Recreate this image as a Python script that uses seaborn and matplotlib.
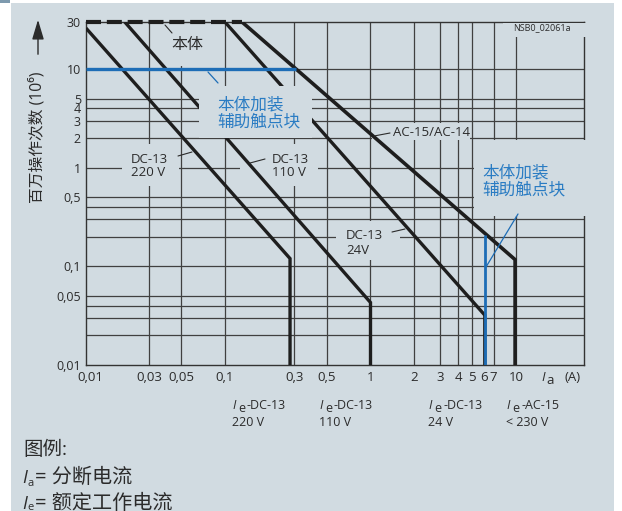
import numpy as np
import pandas as pd
import matplotlib
matplotlib.use("Agg")
import matplotlib.pyplot as plt
import matplotlib.transforms as mtransforms
from matplotlib.patches import Rectangle
from matplotlib.lines import Line2D
from matplotlib.ticker import NullLocator
import seaborn as sns

# ---------------- data ----------------
dc13_220v_x = [0.0111, 0.28, 0.28]
dc13_220v_y = [26.0, 0.12, 0.01]
dc13_110v_x = [0.0205, 1.0, 1.0]
dc13_110v_y = [30.0, 0.043, 0.01]
dc13_24v_x = [0.1, 6.1, 6.1]
dc13_24v_y = [30.0, 0.032, 0.01]
ac15_x = [0.131, 9.85, 9.85]
ac15_y = [30.0, 0.117, 0.01]
body_x = [0.0111, 0.131]
body_y = [30.0, 30.0]
aux_h_x = [0.0111, 0.307]
aux_h_y = [10.0, 10.0]
aux_v_x = [6.1, 6.1]
aux_v_y = [0.21, 0.01]

xtick_vals = [0.0118, 0.03, 0.05, 0.1, 0.3, 0.5, 1, 2, 3, 4, 5, 6, 7, 10]
xtick_labels = ["0,01", "0,03", "0,05", "0,1", "0,3", "0,5", "1", "2", "3", "4", "5", "6", "7", "10"]
ytick_vals = [30, 10, 5, 4, 3, 2, 1, 0.5, 0.1, 0.05, 0.01]
ytick_labels = ["30", "10", "5", "4", "3", "2", "1", "0,5", "0,1", "0,05", "0,01"]
xgrid_vals = [0.03, 0.05, 0.1, 0.3, 0.5, 1, 2, 3, 4, 5, 7, 10]
ygrid_vals = [10, 5, 4, 3, 2, 1, 0.5, 0.4, 0.3, 0.2, 0.1, 0.05, 0.04, 0.03, 0.02]

# ---------------- style ----------------
sns.set_theme(style="white")
plt.rcParams["font.family"] = ["Open Sans", "Noto Sans CJK SC", "DejaVu Sans"]

BG = "#d1dbe1"
GRID = "#404040"
INK = "#2b2b2b"
BLUE_L = "#1d6db6"
BLUE_T = "#2a7cc3"
W, H = 622, 511

fig = plt.figure(figsize=(W / 100, H / 100), dpi=100)
fig.patch.set_facecolor("white")
fig.add_artist(Rectangle((11 / W, 0), (614 - 11) / W, (H - 3) / H,
                         transform=fig.transFigure, facecolor=BG, edgecolor="none", zorder=-5))
fig.add_artist(Rectangle((0, 1 - 3 / H), 10 / W, 3 / H,
                         transform=fig.transFigure, facecolor="#7e9aae", edgecolor="none", zorder=-5))

ax = fig.add_axes([86 / W, 1 - 365 / H, (584 - 86) / W, (365 - 22) / H])
ax.set_facecolor(BG)
ax.set_xscale("log")
ax.set_yscale("log")
ax.set_xlim(0.0111, 29.3)
ax.set_ylim(0.01, 30)

# pixel transform (top-left origin) for annotations
pix = mtransforms.Affine2D().scale(1 / W, -1 / H).translate(0, 1) + fig.transFigure

for v in xgrid_vals:
    ax.axvline(v, color=GRID, lw=0.9, zorder=1)
for v in ygrid_vals:
    ax.axhline(v, color=GRID, lw=0.9, zorder=1)

def curve(xs, ys, color, lw, z=3, clip=True):
    df = pd.DataFrame({"x": xs, "y": ys})
    sns.lineplot(data=df, x="x", y="y", ax=ax, color=color, lw=lw, sort=False,
                 estimator=None, zorder=z, solid_joinstyle="miter", solid_capstyle="butt")
    ln = ax.lines[-1]
    ln.set_clip_on(clip)
    return ln

curve(dc13_220v_x, dc13_220v_y, "#1e1e1e", 2.4)
curve(dc13_110v_x, dc13_110v_y, "#1e1e1e", 2.4)
curve(dc13_24v_x, dc13_24v_y, "#1e1e1e", 2.4)
curve(ac15_x, ac15_y, "#1e1e1e", 2.6)
dl = curve(body_x, body_y, "#1e1e1e", 3.0, z=4, clip=False)
dl.set_dashes([3.6, 1.4])
dl.set_dash_capstyle("butt")
curve(aux_h_x, aux_h_y, BLUE_L, 2.4, z=4)
curve(aux_v_x, aux_v_y, BLUE_L, 2.0, z=4)

ax.set_xticks(xtick_vals)
ax.set_xticklabels(xtick_labels)
ax.set_yticks(ytick_vals)
ax.set_yticklabels(ytick_labels)
ax.xaxis.set_minor_locator(NullLocator())
ax.yaxis.set_minor_locator(NullLocator())
ax.tick_params(axis="both", length=0, labelsize=9.5, labelcolor=INK)
ax.tick_params(axis="y", labelsize=9.0)
ax.tick_params(axis="x", pad=4.5)
ax.tick_params(axis="y", pad=3.6)
ax.set_xlabel("")
ax.set_ylabel("")
for s in ax.spines.values():
    s.set_color("#333333")
    s.set_linewidth(1.0)
    s.set_zorder(2.5)

# masks behind the in-chart labels
def mask(x0, y0, x1, y1, z=2.7):
    ax.add_patch(Rectangle((x0, y0), x1 - x0, y1 - y0, transform=pix, facecolor=BG,
                           edgecolor="none", zorder=z, clip_on=False))

mask(503, 23.5, 586, 37)
mask(167, 24, 206, 66)
mask(199, 86, 312, 138, z=3.5)
mask(122, 144, 179, 186)
mask(240, 144, 318, 186)
mask(372, 123, 470, 140.5)
mask(474, 140.5, 586, 216)
mask(336, 221, 400, 260)

def leader(x0, y0, x1, y1, color=INK, lw=0.8):
    ax.add_line(Line2D([x0, x1], [y0, y1], transform=pix, color=color, lw=lw,
                       zorder=4.5, clip_on=False))

leader(165, 25, 172, 33)
leader(208, 72, 218, 83, BLUE_L, 0.9)
leader(178, 156, 192, 152)
leader(250, 163, 265, 159)
leader(374, 136, 390, 133)
leader(392, 232, 405, 229)
leader(486, 267, 518, 214, BLUE_L, 0.9)

def ptext(x, y, s, **kw):
    kw.setdefault("color", INK)
    return fig.text(x / W, 1 - y / H, s, **kw)

ptext(187, 45, "本体", fontsize=11.5, ha="center", va="center")
ptext(217, 114, "本体加装\n辅助触点块", fontsize=12, ha="left", va="center",
      color=BLUE_T, linespacing=1.08)
ptext(482, 182, "本体加装\n辅助触点块", fontsize=12, ha="left", va="center",
      color=BLUE_T, linespacing=1.08)
ptext(131, 166, "DC-13\n220 V", fontsize=9.5, ha="left", va="center", linespacing=0.95)
ptext(272, 166, "DC-13\n110 V", fontsize=9.5, ha="left", va="center", linespacing=0.95)
ptext(346, 243, "DC-13\n24V", fontsize=9.5, ha="left", va="center", linespacing=1.2)
ptext(393, 133, "AC-15/AC-14", fontsize=9.5, ha="left", va="center")
ptext(542, 28, "NSB0_02061a", fontsize=6.5, ha="center", va="center")

# axis titles
ptext(37, 137, "百万操作次数 (10⁶)", fontsize=11.3, rotation=90, ha="center", va="center")
ax.annotate("", xy=(38, 17), xytext=(38, 57), xycoords=pix, textcoords=pix,
            arrowprops=dict(arrowstyle="-|>,head_length=1.0,head_width=0.3",
                            color=INK, lw=1.0), annotation_clip=False)
ptext(543, 377, "I", fontsize=9.5, style="italic", ha="center", va="center")
ptext(550, 380, "a", fontsize=9.5, ha="center", va="center")
ptext(573, 377, "(A)", fontsize=9.5, ha="center", va="center")

# rated current notes under the axis
notes_x = [232, 319, 428, 506]
notes_kind = ["-DC-13", "-DC-13", "-DC-13", "-AC-15"]
notes_volt = ["220 V", "110 V", "24 V", "< 230 V"]
for nx, kind, volt in zip(notes_x, notes_kind, notes_volt):
    ptext(nx + 2, 405, "I", fontsize=9, style="italic", ha="center", va="center")
    ptext(nx + 10, 408, "e", fontsize=9, ha="center", va="center")
    ptext(nx + 15, 405, kind, fontsize=9, ha="left", va="center")
    ptext(nx, 422, volt, fontsize=9, ha="left", va="center")

# legend notes
ptext(23, 450, "图例:", fontsize=14, ha="left", va="center")
ptext(25, 478, "I", fontsize=13, style="italic", ha="center", va="center")
ptext(31, 484, "a", fontsize=8, ha="center", va="center")
ptext(35, 478, "= 分断电流", fontsize=14.5, ha="left", va="center")
ptext(25, 504, "I", fontsize=13, style="italic", ha="center", va="center")
ptext(31, 507, "e", fontsize=8, ha="center", va="center")
ptext(35, 504, "= 额定工作电流", fontsize=14.5, ha="left", va="center")

fig.savefig("out.png", dpi=100, facecolor=fig.get_facecolor())
